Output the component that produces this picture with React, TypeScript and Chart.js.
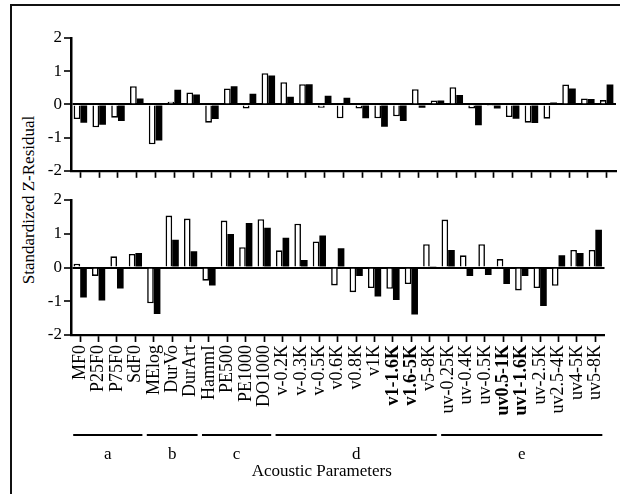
import { useEffect, useRef } from "react";
import { Chart, registerables } from "chart.js";

Chart.register(...registerables);

const categories = [
  "MF0", "P25F0", "P75F0", "SdF0",
  "MElog", "DurVo", "DurArt",
  "HammI", "PE500", "PE1000", "DO1000",
  "v-0.2K", "v-0.3K", "v-0.5K", "v0.6K", "v0.8K", "v1K", "v1-1.6K", "v1.6-5K", "v5-8K",
  "uv-0.25K", "uv-0.4K", "uv-0.5K", "uv0.5-1K", "uv1-1.6K", "uv-2.5K", "uv2.5-4K", "uv4-5K", "uv5-8K",
];
const boldLabels = ["v1-1.6K", "v1.6-5K", "uv0.5-1K", "uv1-1.6K"];

const topWhite = [
  -0.44, -0.69, -0.40, 0.55,
  -1.20, 0.08, 0.36,
  -0.55, 0.48, -0.12, 0.94,
  0.67, 0.61, -0.10, -0.42, -0.12, -0.42, -0.36, 0.46, 0.12,
  0.52, -0.12, -0.05, -0.38, -0.55, -0.43, 0.60, 0.18, 0.13,
];
const topBlack = [
  -0.55, -0.61, -0.50, 0.18,
  -1.09, 0.44, 0.30,
  -0.44, 0.55, 0.32, 0.87,
  0.23, 0.61, 0.26, 0.20, -0.42, -0.67, -0.50, -0.10, 0.12,
  0.28, -0.63, -0.12, -0.43, -0.56, 0.06, 0.48, 0.16, 0.60,
];
const bottomWhite = [
  0.11, -0.25, 0.33, 0.40,
  -1.06, 1.54, 1.45,
  -0.39, 1.39, 0.60, 1.43,
  0.51, 1.30, 0.77, -0.53, -0.73, -0.61, -0.63, -0.49, 0.69,
  1.42, 0.36, 0.69, 0.25, -0.68, -0.61, -0.54, 0.52, 0.52,
];
const bottomBlack = [
  -0.89, -0.98, -0.62, 0.43,
  -1.38, 0.82, 0.48,
  -0.53, 0.99, 1.32, 1.18,
  0.88, 0.22, 0.95, 0.57, -0.25, -0.86, -0.96, -1.39, 0.02,
  0.52, -0.25, -0.22, -0.49, -0.25, -1.14, 0.36, 0.43, 1.12,
];

const groupNames = ["a", "b", "c", "d", "e"];
const groupStarts = [0, 4, 7, 11, 20];
const groupEnds = [3, 6, 10, 19, 28];

const yTitle = "Standardized Z-Residual";
const xTitle = "Acoustic Parameters";

const FONT = "'Liberation Serif', 'Times New Roman', serif";

const groupPlugin = {
  id: "groupBrackets",
  afterDraw(chart: any) {
    const x = chart.scales.x;
    const ctx = chart.ctx;
    const base = chart.chartArea.bottom;
    ctx.save();
    ctx.strokeStyle = "#000";
    ctx.lineWidth = 1.8;
    ctx.fillStyle = "#000";
    ctx.font = `17px ${FONT}`;
    ctx.textAlign = "center";
    ctx.textBaseline = "middle";
    groupNames.forEach((g, i) => {
      const x1 = x.getPixelForValue(groupStarts[i]) - 7;
      const x2 = x.getPixelForValue(groupEnds[i]) + 7;
      ctx.beginPath();
      ctx.moveTo(x1, base + 100);
      ctx.lineTo(x2, base + 100);
      ctx.stroke();
      ctx.fillText(g, (x1 + x2) / 2, base + 120);
    });
    ctx.fillText(xTitle, (chart.chartArea.left + chart.chartArea.right) / 2 - 16, base + 137);
    ctx.restore();
  },
};

function makeChart(canvas: HTMLCanvasElement, white: number[], black: number[], bottom: boolean) {
  return new Chart(canvas, {
    type: "bar",
    data: {
      labels: categories,
      datasets: [
        {
          data: white,
          backgroundColor: "#ffffff",
          borderColor: "#000000",
          borderWidth: 1.6,
          borderSkipped: "start",
          categoryPercentage: 0.72,
          barPercentage: 1,
        },
        {
          data: black,
          backgroundColor: "#000000",
          borderWidth: 0,
          categoryPercentage: 0.72,
          barPercentage: 1,
        },
      ],
    },
    options: {
      responsive: false,
      animation: false,
      events: [],
      layout: { padding: { top: bottom ? 15 : 38, right: 4, left: 0, bottom: 0 } },
      plugins: { legend: { display: false }, tooltip: { enabled: false } },
      scales: {
        x: {
          grid: {
            display: true,
            drawOnChartArea: false,
            offset: false,
            drawTicks: true,
            tickLength: 7,
            tickColor: "#000",
            tickWidth: 1.7,
          },
          border: { display: true, color: "#000", width: 2.2 },
          ticks: {
            display: bottom,
            autoSkip: false,
            minRotation: 90,
            maxRotation: 90,
            padding: 3,
            color: "#000",
            font: (c: any) => ({
              family: FONT,
              size: 18,
              weight: boldLabels.includes(categories[c.index]) ? "bold" : "normal",
            }),
          },
          afterFit: (s: any) => {
            s.height = bottom ? 159 : 10;
          },
        },
        y: {
          min: -2,
          max: 2,
          grid: {
            drawOnChartArea: true,
            color: (c: any) => (c.tick && c.tick.value === 0 ? "#000" : "rgba(0,0,0,0)"),
            lineWidth: (c: any) => (c.tick && c.tick.value === 0 ? 2 : 0),
            tickColor: "#000",
            tickWidth: 1.6,
            tickLength: 7,
          },
          border: { display: true, color: "#000", width: 2.5 },
          ticks: {
            stepSize: 1,
            padding: 2,
            color: "#000",
            font: { family: FONT, size: 17 },
            callback: (v: any) => String(v),
          },
          afterFit: (s: any) => {
            s.width = 71;
          },
        },
      },
    },
    plugins: bottom ? [groupPlugin] : [],
  } as any);
}

export default function App() {
  const topRef = useRef<HTMLCanvasElement>(null);
  const botRef = useRef<HTMLCanvasElement>(null);

  useEffect(() => {
    const c1 = makeChart(topRef.current!, topWhite, topBlack, false);
    const c2 = makeChart(botRef.current!, bottomWhite, bottomBlack, true);
    return () => {
      c1.destroy();
      c2.destroy();
    };
  }, []);

  return (
    <div
      style={{
        position: "absolute",
        left: 0,
        top: 0,
        width: 620,
        height: 494,
        background: "#fff",
        overflow: "hidden",
        fontFamily: FONT,
      }}
    >
      <div
        style={{
          position: "absolute",
          left: 10,
          top: 4,
          width: 640,
          height: 520,
          borderTop: "2px solid #111",
          borderLeft: "2px solid #111",
        }}
      />
      <div
        style={{
          position: "absolute",
          left: 28,
          top: 200,
          transform: "translate(-50%, -50%) rotate(-90deg)",
          whiteSpace: "nowrap",
          fontSize: 17,
          color: "#000",
          lineHeight: 1,
        }}
      >
        {yTitle}
      </div>
      <canvas
        ref={topRef}
        width={620}
        height={183}
        style={{ position: "absolute", left: 0, top: 0, width: 620, height: 183 }}
      />
      <canvas
        ref={botRef}
        width={620}
        height={309}
        style={{ position: "absolute", left: 0, top: 185, width: 620, height: 309 }}
      />
    </div>
  );
}
